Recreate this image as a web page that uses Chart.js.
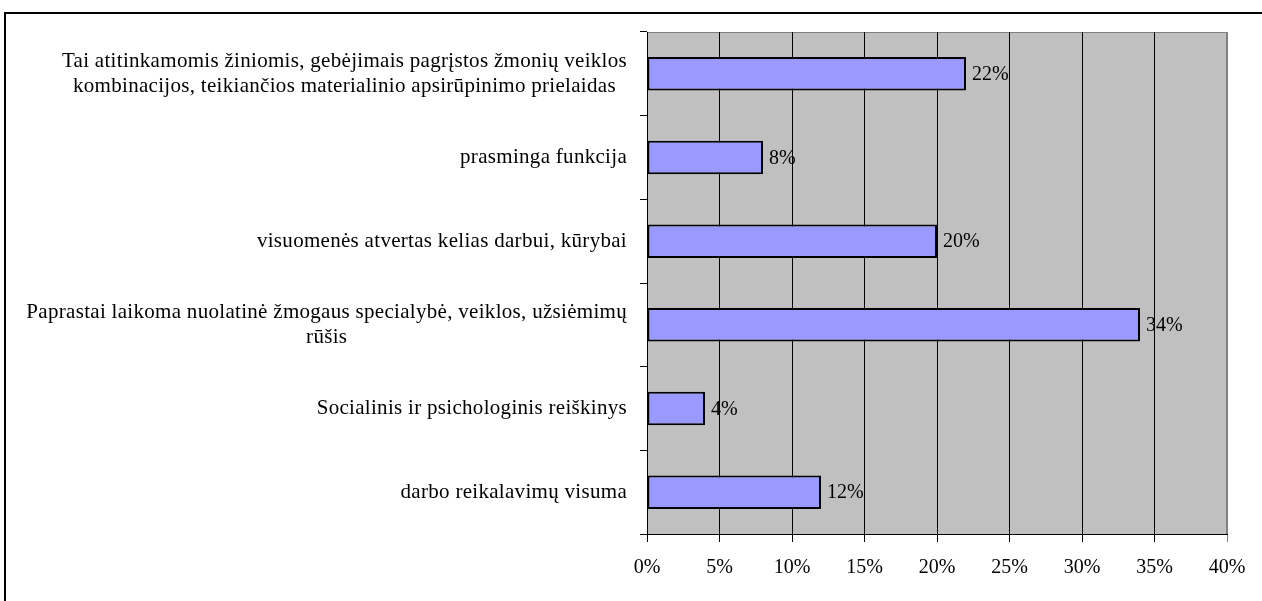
<!DOCTYPE html>
<html>
<head>
<meta charset="utf-8">
<script src="https://cdn.jsdelivr.net/npm/chart.js@4"></script>
<style>
  html, body { margin: 0; padding: 0; background: #fff; overflow: hidden; }
  #wrap { position: relative; width: 1262px; height: 601px; }
  #frame { position: absolute; left: 4px; top: 12px; width: 1400px; height: 800px; border-top: 2px solid #000; border-left: 2px solid #000; }
  canvas { position: absolute; left: 0; top: 0; }
</style>
</head>
<body>
<div id="wrap">
  <div id="frame"></div>
  <canvas id="chart" width="1262" height="601"></canvas>
</div>
<script>
// categories (top to bottom), some wrap onto two lines
const categories = [
    ['Tai atitinkamomis žiniomis, gebėjimais pagrįstos žmonių veiklos', 'kombinacijos, teikiančios materialinio apsirūpinimo prielaidas'],
    ['prasminga funkcija'],
    ['visuomenės atvertas kelias darbui, kūrybai'],
    ['Paprastai laikoma nuolatinė žmogaus specialybė, veiklos, užsiėmimų', 'rūšis'],
    ['Socialinis ir psichologinis reiškinys'],
    ['darbo reikalavimų visuma']
];
const values = [22, 8, 20, 34, 4, 12];
const axisMax = 40;
const axisStep = 5;

const serif = "'Liberation Serif', 'Times New Roman', serif";
Chart.defaults.font.family = serif;
Chart.defaults.font.size = 20;
Chart.defaults.color = '#000';

// grey plot area with grey frame
const plotBg = {
    id: 'plotBg',
    beforeDraw(chart) {
        const { ctx, chartArea: a } = chart;
        ctx.save();
        ctx.fillStyle = '#c0c0c0';
        ctx.fillRect(a.left, a.top, a.right - a.left, a.bottom - a.top);
        ctx.strokeStyle = '#808080';
        ctx.lineWidth = 1;
        ctx.strokeRect(a.left + 0.5, a.top + 0.5, a.right - a.left - 1, a.bottom - a.top);
        ctx.restore();
    }
};

// category labels: block right aligned, lines centred within the block
const catLabels = {
    id: 'catLabels',
    afterDraw(chart) {
        const { ctx, chartArea: a } = chart;
        const y = chart.scales.y;
        ctx.save();
        ctx.font = '21px ' + serif;
        ctx.letterSpacing = '0.3px';
        ctx.fillStyle = '#000';
        ctx.textAlign = 'center';
        ctx.textBaseline = 'middle';
        const lineH = 25;
        categories.forEach((lines, i) => {
            const w = Math.max(...lines.map(l => ctx.measureText(l).width));
            const cx = a.left - 20 - w / 2;
            const cy = y.getPixelForValue(i);
            lines.forEach((l, j) => {
                ctx.fillText(l, cx, cy + (j - (lines.length - 1) / 2) * lineH);
            });
        });
        // value labels after bars
        ctx.font = '20px ' + serif;
        ctx.letterSpacing = '0px';
        ctx.textAlign = 'left';
        const meta = chart.getDatasetMeta(0);
        meta.data.forEach((bar, i) => {
            ctx.fillText(values[i] + '%', bar.x + 6, bar.y + 1);
        });
        ctx.restore();
    }
};

new Chart(document.getElementById('chart'), {
    type: 'bar',
    data: {
        labels: categories.map(c => c.join(' ')),
        datasets: [{
            data: values,
            backgroundColor: '#9999ff',
            borderColor: '#000',
            borderWidth: 2,
            borderSkipped: false,
            barPercentage: 0.4,
            categoryPercentage: 1
        }]
    },
    options: {
        indexAxis: 'y',
        responsive: false,
        animation: false,
        layout: { padding: { top: 32, right: 35, left: 0, bottom: 0 } },
        plugins: {
            legend: { display: false },
            tooltip: { enabled: false }
        },
        scales: {
            x: {
                min: 0,
                max: axisMax,
                ticks: {
                    stepSize: axisStep,
                    padding: 14,
                    maxRotation: 0,
                    callback: v => v + '%'
                },
                grid: {
                    color: c => (c.tick && c.tick.value === axisMax) ? '#808080' : '#000',
                    lineWidth: 1,
                    tickLength: 8
                },
                border: { color: '#000', width: 1 },
                afterFit: s => { s.height = 67; }
            },
            y: {
                ticks: { display: false },
                grid: {
                    offset: true,
                    drawOnChartArea: false,
                    color: '#000',
                    tickLength: 7
                },
                border: { color: '#000', width: 1 },
                afterFit: s => { s.width = 647; }
            }
        }
    },
    plugins: [plotBg, catLabels]
});
</script>
</body>
</html>
